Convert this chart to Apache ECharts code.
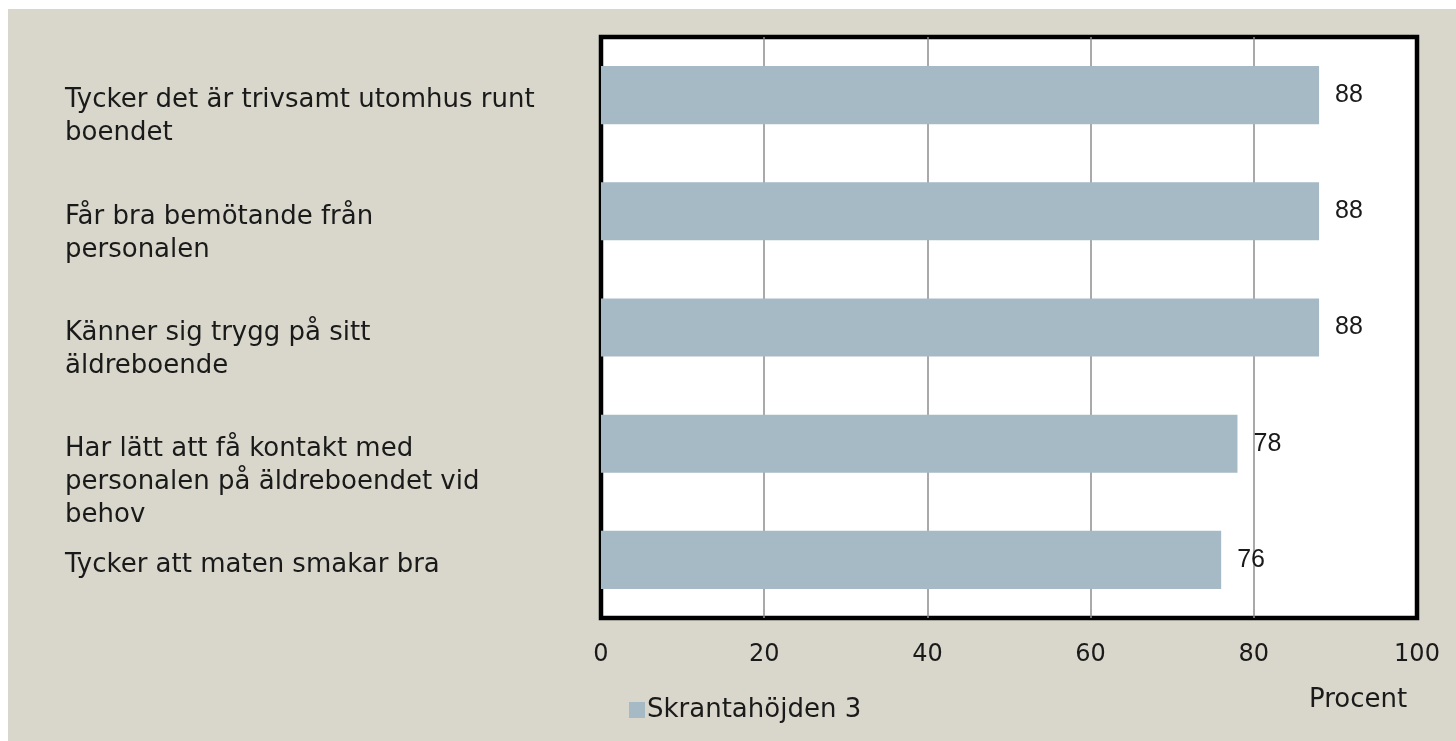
<!DOCTYPE html>
<html><head><meta charset="utf-8">
<script src="https://cdn.jsdelivr.net/npm/echarts@6/dist/echarts.min.js"></script>
<style>html,body{margin:0;padding:0;background:#fff;}#c{position:absolute;left:8px;top:9px;width:1448px;height:732px;background:#d9d7cb;}</style>
</head><body><div id="c"></div>
<script>
const categories = [
  "Tycker det är trivsamt utomhus runt\nboendet",
  "Får bra bemötande från\npersonalen",
  "Känner sig trygg på sitt\näldreboende",
  "Har lätt att få kontakt med\npersonalen på äldreboendet vid\nbehov",
  "Tycker att maten smakar bra"
];
const values = [88, 88, 88, 78, 76];
const seriesName = "Skrantahöjden 3";
const xTicks = [0, 20, 40, 60, 80, 100];
const axisTitle = "Procent";

const FONT = "DejaVu Sans";
const chart = echarts.init(document.getElementById('c'));
chart.setOption({
  animation: false,
  backgroundColor: '#d9d7cb',
  textStyle: {fontFamily: FONT, color: '#1a1a1a'},
  grid: {left: 593, right: 39, top: 28, bottom: 123, show: true, backgroundColor: '#ffffff', borderColor: '#000000', borderWidth: 4.5, containLabel: false},
  title: {text: axisTitle, left: 1296, top: 673, textStyle: {fontFamily: FONT, fontSize: 26, fontWeight: 'normal', color: '#1a1a1a'}},
  legend: {left: 616, top: 683, itemWidth: 16, itemHeight: 16, itemGap: 10, icon: 'rect',
    textStyle: {fontFamily: FONT, fontSize: 26, color: '#1a1a1a', padding: [0,0,0,-3]},
    data: [seriesName]},
  xAxis: {type: 'value', min: xTicks[0], max: xTicks[xTicks.length-1], interval: 20,
    axisLine: {show: false}, axisTick: {show: false},
    splitLine: {show: true, showMinLine: false, showMaxLine: false, lineStyle: {color: '#8c8c8c', width: 1.5}},
    axisLabel: {margin: 25, fontSize: 24, color: '#1a1a1a', fontFamily: FONT}},
  yAxis: {type: 'category', inverse: true, data: categories,
    axisLine: {show: false}, axisTick: {show: false}, splitLine: {show: false},
    axisLabel: {align: 'left', verticalAlign: 'top', margin: 536, fontSize: 26, lineHeight: 33, color: '#1a1a1a', fontFamily: FONT, padding: [-11, 0, 0, 0]}},
  series: [{
    name: seriesName, type: 'bar', data: values, barCategoryGap: '50%',
    itemStyle: {color: '#a6bac5'},
    label: {show: true, position: 'right', distance: 16, fontSize: 25, color: '#1a1a1a', fontFamily: 'Liberation Sans'}
  }]
});
</script></body></html>
